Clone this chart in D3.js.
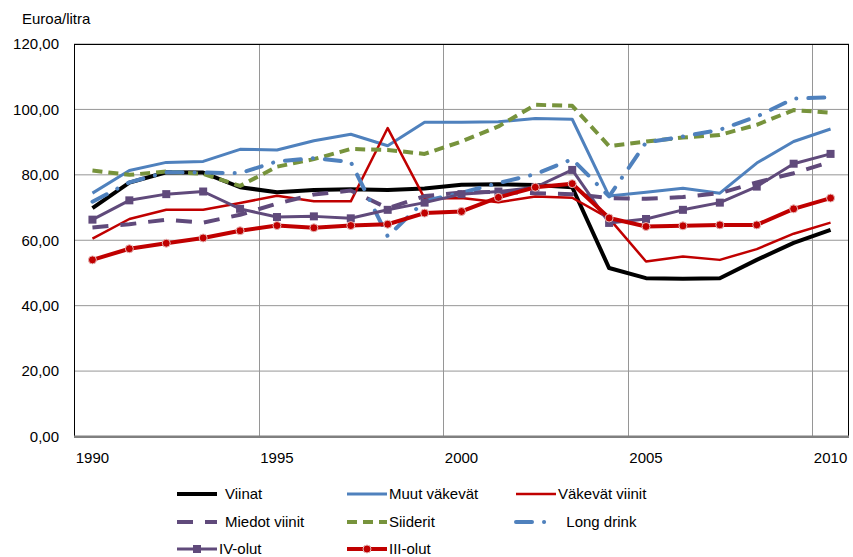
<!DOCTYPE html>
<html>
<head>
<meta charset="utf-8">
<script src="https://cdn.jsdelivr.net/npm/d3@7"></script>
<style>
  body { margin: 0; background: #fff; }
  text { font-family: "Liberation Sans", Arial, sans-serif; font-size: 15px; fill: #000; }
</style>
</head>
<body>
<svg id="chart" width="853" height="557"></svg>
<script>
// years on the category axis
var years = d3.range(1990, 2011);
var yearLabels = [1990, 1995, 2000, 2005, 2010];
var yTicks = [0, 20, 40, 60, 80, 100, 120];

// values (euro per litre)
var viinat       = [69.8, 77.6, 80.8, 80.7, 76.2, 74.7, 75.4, 75.6, 75.4, 75.8, 77.0, 77.1, 76.9, 76.2, 51.5, 48.4, 48.2, 48.4, 54.0, 59.2, 63.2];
var muutVakevat  = [74.4, 81.3, 83.8, 84.1, 87.8, 87.6, 90.4, 92.4, 88.9, 96.1, 96.1, 96.2, 97.2, 97.0, 73.5, 74.7, 75.9, 74.4, 83.6, 90.2, 94.0];
var vakevatViinit = [60.5, 66.5, 69.3, 69.3, 71.4, 73.6, 71.9, 71.9, 94.3, 72.8, 72.9, 71.6, 73.4, 73.0, 66.7, 53.5, 55.0, 54.0, 57.3, 62.0, 65.4];
var miedotViinit = [63.9, 64.9, 66.3, 65.4, 67.8, 71.2, 74.0, 75.2, 69.8, 73.5, 74.6, 74.8, 74.4, 74.1, 72.9, 72.7, 73.2, 74.4, 77.7, 80.5, 84.0];
var siiderit     = [81.3, 80.0, 81.0, 80.3, 76.6, 82.5, 84.8, 87.9, 87.6, 86.4, 90.2, 94.8, 101.4, 101.1, 88.8, 90.2, 91.4, 92.2, 95.3, 99.8, 99.0];
var longDrink    = [71.8, 77.7, 80.8, 80.7, 80.5, 84.1, 85.1, 83.9, 61.2, 72.0, 74.5, 77.5, 80.2, 84.8, 73.4, 89.9, 91.7, 93.8, 97.8, 103.3, 103.7];
var ivOlut       = [66.3, 72.2, 74.1, 74.9, 69.6, 67.1, 67.3, 66.7, 69.3, 71.5, 74.1, 74.9, 76.2, 81.5, 65.3, 66.5, 69.3, 71.5, 76.4, 83.4, 86.4];
var iiiOlut      = [54.0, 57.4, 59.1, 60.7, 62.9, 64.5, 63.8, 64.5, 64.9, 68.3, 68.8, 73.1, 76.2, 77.3, 66.8, 64.2, 64.4, 64.7, 64.7, 69.6, 72.9];

var seriesNames = ["Viinat", "Muut väkevät", "Väkevät viinit", "Miedot viinit", "Siiderit", "Long drink", "IV-olut", "III-olut"];
var seriesValues = [viinat, muutVakevat, vakevatViinit, miedotViinit, siiderit, longDrink, ivOlut, iiiOlut];

// line styles per series
var styles = [
  {color: "#000000", width: 4,   dash: null},
  {color: "#4F81BD", width: 3,   dash: null},
  {color: "#C00000", width: 2.5, dash: null},
  {color: "#604A7B", width: 4,   dash: "16,12"},
  {color: "#77933C", width: 4,   dash: "10,6"},
  {color: "#4F81BD", width: 4,   dash: "16,12,0.1,12", cap: "round"},
  {color: "#604A7B", width: 3,   dash: null, marker: "square"},
  {color: "#C00000", width: 4,   dash: null, marker: "circle"}
];

var margin = {top: 44, right: 4, bottom: 120.5, left: 74},
    width = 853 - margin.left - margin.right,
    height = 557 - margin.top - margin.bottom;

var svg = d3.select("#chart");
var g = svg.append("g")
    .attr("transform", "translate(" + margin.left + "," + margin.top + ")");

var x = d3.scaleBand()
    .domain(years)
    .range([0, width]);

var y = d3.scaleLinear()
    .domain([0, 120])
    .range([height, 0]);

function cx(i) { return x(years[i]) + x.bandwidth() / 2; }

// horizontal grid
g.append("g")
  .selectAll("line")
  .data(yTicks.slice(1))
  .enter()
  .append("line")
    .attr("x1", 0).attr("x2", width)
    .attr("y1", function(d) { return y(d); })
    .attr("y2", function(d) { return y(d); })
    .style("stroke", "#969696")
    .style("stroke-width", 1);

// vertical grid at category boundaries
g.append("g")
  .selectAll("line")
  .data(yearLabels.slice(1))
  .enter()
  .append("line")
    .attr("x1", function(d) { return Math.round(x(d)) + 0.5; })
    .attr("x2", function(d) { return Math.round(x(d)) + 0.5; })
    .attr("y1", 0).attr("y2", height)
    .style("stroke", "#969696")
    .style("stroke-width", 1);

// plot frame
g.append("rect")
  .attr("x", 0.5).attr("y", 0.5)
  .attr("width", width - 1).attr("height", height)
  .style("fill", "none")
  .style("stroke", "#000")
  .style("stroke-width", 1);

g.append("line")
  .attr("x1", 0).attr("x2", width)
  .attr("y1", height).attr("y2", height)
  .style("stroke", "#808080")
  .style("stroke-width", 2);

// y labels
g.append("g")
  .selectAll("text")
  .data(yTicks)
  .enter()
  .append("text")
    .attr("x", -15)
    .attr("y", function(d) { return y(d); })
    .attr("dy", "0.36em")
    .attr("text-anchor", "end")
    .text(function(d) { return d3.format(".2f")(d).replace(".", ","); });

// x labels
g.append("g")
  .selectAll("text")
  .data(yearLabels)
  .enter()
  .append("text")
    .attr("x", function(d) { return x(d) + x.bandwidth() / 2; })
    .attr("y", height + 26.5)
    .attr("text-anchor", "middle")
    .text(function(d) { return d; });

svg.append("text")
  .attr("x", 22)
  .attr("y", 24)
  .text("Euroa/litra");

// lines
var line = d3.line()
    .x(function(d, i) { return cx(i); })
    .y(function(d) { return y(d); });

seriesValues.forEach(function(vals, k) {
  var s = styles[k];
  g.append("path")
    .datum(vals)
    .attr("d", line)
    .style("fill", "none")
    .style("stroke", s.color)
    .style("stroke-width", s.width)
    .style("stroke-linejoin", "round")
    .style("stroke-linecap", s.cap || "butt")
    .style("stroke-dasharray", s.dash);

  if (s.marker == "square") {
    g.append("g")
      .selectAll("rect")
      .data(vals)
      .enter()
      .append("rect")
        .attr("x", function(d, i) { return cx(i) - 4; })
        .attr("y", function(d) { return y(d) - 4; })
        .attr("width", 8).attr("height", 8)
        .style("fill", s.color);
  } else if (s.marker == "circle") {
    g.append("g")
      .selectAll("circle")
      .data(vals)
      .enter()
      .append("circle")
        .attr("cx", function(d, i) { return cx(i); })
        .attr("cy", function(d) { return y(d); })
        .attr("r", 4)
        .style("fill", s.color)
        .style("stroke", "#E6B9B8")
        .style("stroke-width", 1);
  }
});

// legend
var legCols = [177, 347, 516];
var legRows = [494, 522, 549];

var legend = svg.append("g");
seriesNames.forEach(function(name, k) {
  var s = styles[k];
  var lx = legCols[k % 3], ly = legRows[Math.floor(k / 3)];
  var item = legend.append("g");
  item.append("line")
    .attr("x1", lx).attr("x2", lx + 40)
    .attr("y1", ly).attr("y2", ly)
    .style("stroke", s.color)
    .style("stroke-width", s.width)
    .style("stroke-linecap", s.cap || "butt")
    .style("stroke-dasharray", s.dash);
  if (s.marker == "square") {
    item.append("rect")
      .attr("x", lx + 16).attr("y", ly - 4)
      .attr("width", 8).attr("height", 8)
      .style("fill", s.color);
  } else if (s.marker == "circle") {
    item.append("circle")
      .attr("cx", lx + 20).attr("cy", ly).attr("r", 4)
      .style("fill", s.color)
      .style("stroke", "#E6B9B8");
  }
  item.append("text")
    .attr("x", k % 3 == 0 && k < 6 ? lx + 48 : lx + 42)
    .attr("y", ly)
    .attr("dy", "0.36em")
    .text(name == "Long drink" ? "\u00a0 Long drink" : name);
});
</script>
</body>
</html>
